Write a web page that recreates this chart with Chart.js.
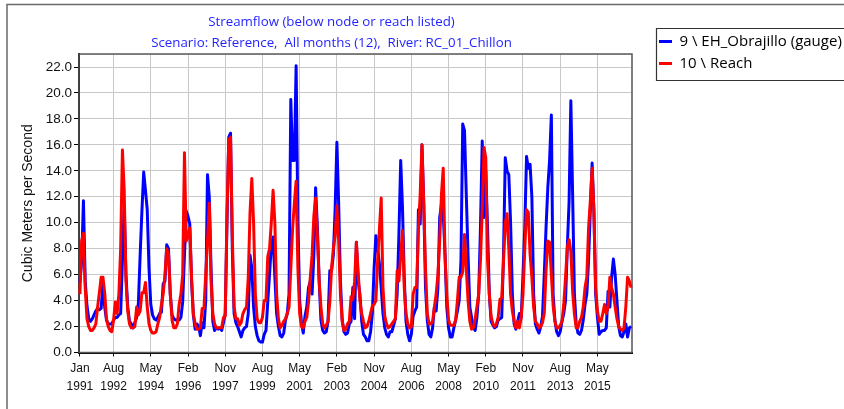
<!DOCTYPE html>
<html>
<head>
<meta charset="utf-8">
<script src="https://cdn.jsdelivr.net/npm/chart.js@4.4.1/dist/chart.umd.min.js"></script>
<style>
html,body{margin:0;padding:0;background:#fff;overflow:hidden;}
#wrap{width:844px;height:409px;position:relative;overflow:hidden;}
canvas{display:block;}
</style>
</head>
<body>
<div id="wrap"><canvas id="c" width="844" height="409"></canvas></div>
<script>
// ---- data ----
const monthNames = ['Jan','Feb','Mar','Apr','May','Jun','Jul','Aug','Sep','Oct','Nov','Dec'];
const years = [1991,1992,1993,1994,1995,1996,1997,1998,1999,2000,2001,2002,2003,2004,2005,2006,2007,2008,2009,2010,2011,2012,2013,2014,2015,2016];
const categories = [];
years.forEach(y => monthNames.forEach(m => categories.push(m + ' ' + y)));

const tickLabels = ['Jan 1991','Aug 1992','May 1994','Feb 1996','Nov 1997','Aug 1999','May 2001','Feb 2003','Nov 2004','Aug 2006','May 2008','Feb 2010','Nov 2011','Aug 2013','May 2015'];
const yTicks = [0,2,4,6,8,10,12,14,16,18,20,22];

const seriesNames = ['9 \\ EH_Obrajillo (gauge)', '10 \\ Reach'];

const obrajillo = [
 5.4, 7.0,11.7, 5.5, 3.6, 2.6, 2.4, 2.6, 2.9, 3.2, 3.4, 3.3,
 3.4, 5.3, 3.5, 2.5, 2.2, 2.2, 2.2, 2.5, 2.7, 2.7, 2.9, 3.0,
 7.1,11.3, 6.0, 3.5, 2.4, 2.2, 1.9, 2.3, 2.7, 3.8, 7.5,10.9,
13.9,12.5,11.0, 6.5, 3.7, 2.9, 2.6, 2.5, 2.7, 3.0, 3.1, 5.3,
 5.5, 8.3, 8.0, 4.5, 2.9, 2.6, 2.5, 2.5, 2.5, 2.7, 3.9, 7.5,
10.9,10.5, 9.9, 5.5, 2.9, 1.8, 2.2, 2.0, 1.3, 2.3, 1.9, 4.0,
13.7,12.0, 6.5, 2.4, 1.7, 1.9, 1.8, 1.9, 1.7, 2.3, 3.0,10.0,
16.6,16.9, 8.0, 3.0, 2.3, 2.0, 1.6, 1.2, 1.7, 1.9, 2.0, 3.0,
 7.5, 6.5, 3.5, 2.0, 1.3, 0.9, 0.8, 0.8, 1.4, 1.7, 3.9, 6.0,
 8.3, 8.9, 5.8, 3.0, 2.0, 1.3, 1.2, 1.5, 2.5, 3.0, 4.5,19.5,
14.8,14.8,22.1,10.0, 4.0, 2.3, 1.5, 2.8, 3.5, 5.0, 5.5, 4.5,
 7.5,12.7, 9.6, 5.5, 2.5, 1.7, 1.5, 1.6, 2.4, 6.3, 6.3, 7.5,
11.0,16.2,11.5, 5.5, 2.5, 1.6, 1.4, 1.5, 2.2, 2.4, 5.0, 2.6,
 8.5, 5.5, 4.5, 2.4, 1.4, 1.2, 0.9, 0.9, 1.6, 3.0, 6.5, 9.0,
 8.0, 6.8, 5.0, 3.0, 1.9, 1.4, 1.2, 1.6, 1.6, 2.1, 2.6, 4.5,
 9.1,14.8,11.2, 5.8, 2.4, 1.4, 0.9, 1.4, 2.8, 3.2, 3.5,11.0,
 9.9,16.0,11.5, 5.0, 2.5, 1.4, 1.2, 1.9, 3.5, 3.2, 5.0,10.4,
11.4,10.7, 7.6, 3.5, 1.9, 1.2, 1.2, 1.9, 2.5, 3.2, 4.0, 7.1,
17.6,17.1,12.2, 7.5, 3.5, 2.7, 1.9, 1.7, 2.7, 4.5, 9.6,16.3,
10.4,14.0, 9.6, 4.5, 2.4, 2.1, 1.9, 2.0, 2.5, 2.6, 2.7, 7.5,
15.0,14.0,13.7,10.0, 4.5, 2.2, 1.8, 2.4, 3.0, 2.7, 6.0, 9.6,
15.1,14.2,14.5,12.0, 4.5, 2.2, 1.8, 1.5, 2.0, 2.8, 6.0, 9.6,
12.7,14.8,18.3, 4.5, 2.5, 1.6, 1.3, 1.6, 2.4, 3.0, 4.0, 8.1,
11.6,19.4,12.2, 4.5, 2.2, 1.5, 1.4, 1.7, 2.5, 3.7, 4.5, 7.1,
11.0,14.6,10.9, 4.5, 2.7, 1.4, 1.6, 1.7, 1.7, 1.9, 4.7, 3.5,
 5.8, 7.2, 6.0, 4.0, 2.0, 1.3, 1.2, 1.6, 2.2, 1.2, 1.9, 2.0
];

const reach = [
 4.5, 8.6, 9.2, 5.0, 2.6, 2.0, 1.7, 1.7, 1.9, 2.2, 3.5, 4.6,
 5.8, 5.8, 4.6, 2.6, 2.0, 1.7, 1.6, 2.5, 3.9, 3.0, 4.5, 8.0,
15.6,12.5, 5.5, 3.2, 2.2, 1.9, 1.9, 2.0, 3.5, 2.9, 3.2, 4.6,
 4.6, 5.4, 3.5, 2.2, 1.7, 1.5, 1.5, 1.6, 2.2, 2.7, 3.7, 4.5,
 6.0, 8.0, 7.6, 4.5, 2.5, 1.9, 1.9, 2.2, 3.7, 4.5, 6.0,15.4,
 8.6, 9.0, 9.6, 5.8, 3.0, 2.2, 1.8, 1.8, 1.9, 3.4, 3.4, 6.0,
 8.6,11.5, 5.5, 3.0, 2.2, 1.9, 1.9, 1.9, 1.9, 2.7, 2.8,10.7,
16.4,16.6, 9.0, 3.5, 2.6, 2.6, 2.1, 2.3, 3.0, 3.3, 3.5, 5.8,
10.8,13.4,10.0, 4.5, 2.6, 2.3, 2.3, 2.7, 4.0, 4.0, 7.4, 8.0,
10.0,12.5,10.0, 4.5, 2.6, 1.9, 2.1, 2.4, 2.6, 3.0, 3.5, 6.5,
 9.5,11.5,13.2, 6.5, 3.0, 2.0, 1.9, 2.4, 2.7, 3.9, 5.8, 7.5,
10.5,11.9, 9.0, 5.5, 3.5, 2.2, 1.9, 2.1, 2.4, 3.9, 6.5, 8.0,
 9.0,11.3, 8.6, 4.5, 2.4, 1.7, 1.8, 2.2, 2.4, 4.3, 4.1, 5.5,
 8.5, 6.2, 4.0, 3.0, 2.4, 1.9, 2.0, 2.4, 3.0, 3.6, 3.7, 4.0,
 7.1, 9.5,11.9, 5.0, 2.8, 2.2, 1.9, 2.0, 2.2, 2.4, 2.6, 6.3,
 5.5, 7.5, 9.4, 5.0, 3.0, 2.2, 1.9, 2.0, 4.5, 5.0, 5.0, 9.5,
12.2,16.0,11.5, 6.5, 3.0, 2.2, 2.2, 2.4, 3.5, 4.5, 6.0, 8.6,
12.2,14.2, 7.5, 4.5, 2.5, 2.1, 2.1, 2.1, 2.5, 4.0, 5.8, 5.8,
 6.2, 9.1, 6.5, 4.0, 2.4, 1.8, 1.9, 2.6, 3.5, 4.5, 7.1,11.0,
15.8,15.0, 7.1, 4.5, 2.8, 2.2, 2.0, 2.2, 2.7, 4.1, 4.2, 7.0,
10.0,10.7, 8.0, 4.5, 3.2, 2.4, 1.9, 2.4, 1.9, 2.7, 4.5, 8.0,
11.0,10.8, 7.6, 5.8, 3.5, 2.4, 2.2, 1.9, 2.0, 2.3, 3.0, 6.3,
 8.6, 8.5, 6.0, 3.6, 2.4, 1.9, 1.9, 2.1, 2.4, 3.7, 5.8, 8.1,
 8.7, 7.8, 4.7, 3.0, 1.9, 1.9, 2.4, 2.7, 3.5, 5.0, 5.8, 9.6,
11.7,14.2,11.0, 5.0, 3.2, 2.4, 2.4, 3.0, 3.7, 3.0, 3.5, 5.8,
 5.0, 4.5, 3.5, 2.6, 2.0, 1.8, 1.7, 1.9, 3.5, 5.8, 5.5, 5.0
];

// ---- layout helpers ----
const W = 844, H = 409;
const plotLeft = 79, plotRight = 632, plotBottom = 352.5;
const legendFontSize = 15, legendFamily = '"Open Sans"';
const legendPad = 7, legendBoxW = 13;
const mctx = document.createElement('canvas').getContext('2d');
mctx.font = legendFontSize + 'px ' + legendFamily;
const textW = Math.max(...seriesNames.map(s => mctx.measureText(s).width));
const legendW = legendPad + legendBoxW + legendFontSize / 2 + textW + 10;
const rightSpace = W - plotRight;
const padRight = Math.max(0, rightSpace - legendW);

const framePlugin = {
  id: 'framePlugin',
  afterLayout(chart) {
    const t = chart.titleBlock;
    if (t) { t.left = 7; t.right = 656; t.width = 649; }
    const lg = chart.legend;
    if (lg) {
      const w = lg.width, h = lg.height;
      lg.left = 659 - legendPad; lg.right = lg.left + w;
      lg.top = 27; lg.bottom = lg.top + h;
    }
  },
  beforeDraw(chart) {
    const ctx = chart.ctx;
    ctx.save();
    ctx.fillStyle = '#fff';
    ctx.fillRect(0, 0, W, H);
    ctx.strokeStyle = '#6a6a6a';
    ctx.lineWidth = 1.5;
    ctx.beginPath();
    ctx.moveTo(7, H + 2); ctx.lineTo(7, 4.5); ctx.lineTo(W + 2, 4.5);
    ctx.stroke();
    ctx.restore();
  },
  beforeDatasetsDraw(chart) {
    const a = chart.chartArea, ctx = chart.ctx;
    ctx.save();
    ctx.strokeStyle = '#555';
    ctx.lineWidth = 1.5;
    ctx.strokeRect(a.left, a.top, a.right - a.left, a.bottom - a.top);
    ctx.restore();
  },
  afterDraw(chart) {
    const lg = chart.legend, ctx = chart.ctx;
    if (!lg) return;
    ctx.save();
    ctx.strokeStyle = '#333';
    ctx.lineWidth = 1.2;
    const bx = lg.left + legendPad - 2.5, by = 28.5;
    ctx.beginPath();
    ctx.moveTo(W + 5, by); ctx.lineTo(bx, by); ctx.lineTo(bx, by + 52); ctx.lineTo(W + 5, by + 52);
    ctx.stroke();
    ctx.restore();
  }
};

const ctx = document.getElementById('c').getContext('2d');
new Chart(ctx, {
  type: 'line',
  data: {
    labels: categories,
    datasets: [
      { label: seriesNames[0], data: obrajillo, borderColor: '#0000ff', backgroundColor: '#0000ff',
        borderWidth: 3, pointRadius: 0, tension: 0, fill: false, order: 1, borderJoinStyle: 'round' },
      { label: seriesNames[1], data: reach, borderColor: '#ff0000', backgroundColor: '#ff0000',
        borderWidth: 3, pointRadius: 0, tension: 0, fill: false, order: 0, borderJoinStyle: 'round' }
    ]
  },
  options: {
    responsive: false,
    devicePixelRatio: 1,
    animation: false,
    events: [],
    layout: { padding: { left: 0, right: padRight, top: 0, bottom: 0 } },
    plugins: {
      tooltip: { enabled: false },
      title: {
        display: true,
        fullSize: false,
        text: ['Streamflow (below node or reach listed)', 'Scenario: Reference,  All months (12),  River: RC_01_Chillon'],
        color: '#1f1fff',
        font: { family: '"Open Sans"', size: 13.3, weight: 'normal', lineHeight: 1.58 },
        padding: { top: 11.5, bottom: 0.5 }
      },
      legend: {
        display: true,
        position: 'right',
        align: 'start',
        maxWidth: rightSpace,
        labels: {
          usePointStyle: true,
          pointStyle: 'line',
          pointStyleWidth: legendBoxW,
          boxWidth: legendBoxW,
          padding: legendPad,
          color: '#000',
          font: { family: legendFamily, size: legendFontSize },
          sort: (a, b) => a.datasetIndex - b.datasetIndex
        }
      }
    },
    scales: {
      x: {
        type: 'category',
        offset: true,
        grid: { display: true, offset: false, color: '#c8c8c8', lineWidth: 1, tickLength: 4, tickColor: '#000', drawTicks: true },
        border: { display: true, color: '#000', width: 2 },
        ticks: {
          autoSkip: false, maxRotation: 0, minRotation: 0, padding: 3,
          color: '#111',
          font: { family: '"Liberation Sans", Arial, sans-serif', size: 12, lineHeight: 1.5 },
          callback: function (value) {
            const s = categories[value];
            return s ? s.split(' ') : '';
          }
        },
        afterBuildTicks: (scale) => {
          scale.ticks = tickLabels.map(l => ({ value: categories.indexOf(l) }));
        },
        afterFit: (scale) => { scale.height = H - plotBottom; }
      },
      y: {
        type: 'linear',
        min: 0,
        max: 23,
        grid: { color: '#c8c8c8', lineWidth: 1, tickLength: 5, tickColor: '#000' },
        border: { display: true, color: '#000', width: 2 },
        ticks: {
          padding: 2,
          color: '#111',
          font: { family: '"Liberation Sans", Arial, sans-serif', size: 13.5 },
          callback: (v) => Number(v).toFixed(1)
        },
        afterBuildTicks: (scale) => {
          scale.ticks = yTicks.map(v => ({ value: v }));
        },
        title: {
          display: true,
          text: 'Cubic Meters per Second',
          color: '#111',
          font: { family: '"Liberation Sans", Arial, sans-serif', size: 14 },
          padding: { top: 20, bottom: 0 }
        },
        afterFit: (scale) => { scale.width = plotLeft; }
      }
    }
  },
  plugins: [framePlugin]
});
</script>
</body>
</html>
